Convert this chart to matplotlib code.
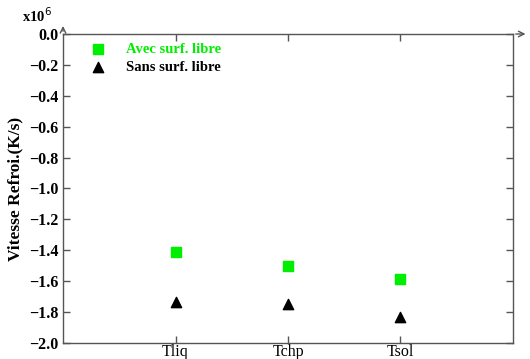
import numpy as np
import matplotlib.pyplot as plt

plt.rcParams['font.family'] = ['Liberation Serif', 'DejaVu Serif']
plt.rcParams['axes.unicode_minus'] = True

categories = ['Tliq', 'Tchp', 'Tsol']
avec_surf = [-1.413, -1.502, -1.588]   # x1e6 K/s
sans_surf = [-1.733, -1.750, -1.830]
yticks = [0.0, -0.2, -0.4, -0.6, -0.8, -1.0, -1.2, -1.4, -1.6, -1.8, -2.0]

fig = plt.figure(figsize=(5.30, 3.59), dpi=100)
ax = fig.add_axes([0.1189, 0.0446, 0.849, 0.8607])

x = np.arange(1, len(categories) + 1)
ax.scatter(x, avec_surf, marker='s', s=55, color='#00ee00', zorder=3, label='Avec surf. libre')
ax.scatter(x, sans_surf, marker='^', s=55, color='black', zorder=3, label='Sans surf. libre')

ax.set_xlim(0, 4)
ax.set_ylim(-2.0, 0.0)
ax.set_xticks(x)
ax.set_xticklabels(categories, fontsize=11.5)
ax.set_yticks(yticks)
ax.set_yticklabels(['\u2212%.1f' % abs(v) if v < 0 else '%.1f' % v for v in yticks],
                   fontsize=11.5, fontweight='bold')
ax.tick_params(direction='in', top=True, right=True, length=5, color='#555555', width=1)
ax.tick_params(axis='x', pad=1)
for s in ax.spines.values():
    s.set_color('#555555')
    s.set_linewidth(1.0)

ax.set_ylabel('Vitesse Refroi.(K/s)', fontsize=12.5, fontweight='bold', labelpad=4)

# axis arrows
ax.annotate('', xy=(1.034, 1.0), xytext=(1.0, 1.0), xycoords='axes fraction',
            arrowprops=dict(arrowstyle='->', color='#555555', lw=1.0), annotation_clip=False)
ax.annotate('', xy=(0.0, 1.035), xytext=(0.0, 1.0), xycoords='axes fraction',
            arrowprops=dict(arrowstyle='->', color='#555555', lw=1.0), annotation_clip=False)

fig.text(0.042, 0.957, r'x10$^6$', fontsize=10.5, fontweight='bold', ha='left', va='center')

leg = ax.legend(loc='upper left', bbox_to_anchor=(0.016, 1.015), frameon=False,
                prop={'size': 10.5, 'weight': 'bold'}, handletextpad=0.9,
                labelspacing=0.35, scatterpoints=1)
for t, c in zip(leg.get_texts(), ['#00ee00', 'black']):
    t.set_color(c)

fig.savefig('out.png', dpi=100)
